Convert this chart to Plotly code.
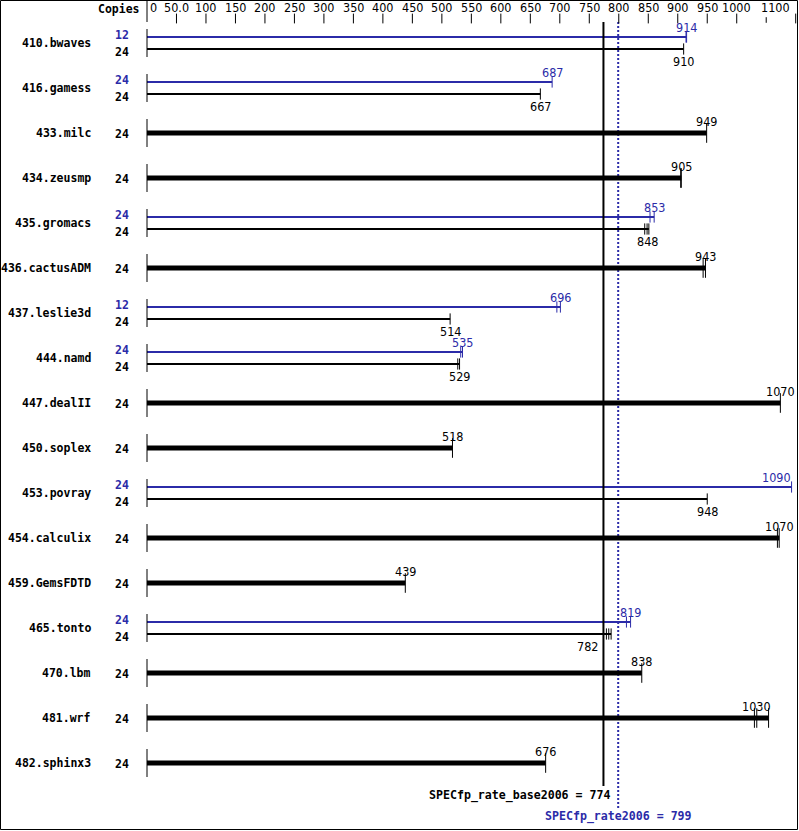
import plotly.graph_objects as go

benchmarks = ["410.bwaves", "416.gamess", "433.milc", "434.zeusmp", "435.gromacs",
              "436.cactusADM", "437.leslie3d", "444.namd", "447.dealII", "450.soplex",
              "453.povray", "454.calculix", "459.GemsFDTD", "465.tonto", "470.lbm",
              "481.wrf", "482.sphinx3"]
base_copies = [24, 24, 24, 24, 24, 24, 24, 24, 24, 24, 24, 24, 24, 24, 24, 24, 24]
peak_copies = [12, 24, None, None, 24, None, 12, 24, None, None, 24, None, None, 24, None, None, None]
base_ratio = [910, 667, 949, 905, 848, 943, 514, 529, 1070, 518, 948, 1070, 439, 782, 838, 1030, 676]
peak_ratio = [914, 687, None, None, 853, None, 696, 535, None, None, 1090, None, None, 819, None, None, None]
base_runs = [[910], [667], [949], [905, 906], [844, 848, 851], [943, 947], [514], [527, 530],
             [1074], [518], [950], [1069, 1072], [438], [779, 783, 787], [839],
             [1030, 1034, 1054], [676]]
peak_runs = [[914, 915], [687], None, None, [853, 860], None, [695, 701], [532, 535],
             None, None, [1093], None, None, [813, 820], None, None, None]
spec_base = 774
spec_peak = 799
spec_base_label = "SPECfp_rate_base2006 = 774"
spec_peak_label = "SPECfp_rate2006 = 799"
tick_vals = [0, 50, 100, 150, 200, 250, 300, 350, 400, 450, 500, 550, 600, 650, 700,
             750, 800, 850, 900, 950, 1000, 1100]
tick_text = ["0", "50.0", "100", "150", "200", "250", "300", "350", "400", "450", "500",
             "550", "600", "650", "700", "750", "800", "850", "900", "950", "1000", "1100"]
minor_tick_vals = [1050]

BLUE = "#2b2ba8"
BLACK = "#000000"
W, H = 799, 831
L, R, T, B = 141, 0, 0, 0
PW, PH = W - L - R, H - T - B
ROW_PX = 45.0
ROW0_PX = 43.0
XMIN = -10.17
XMAX = 1105.6
px_per_unit = PW / (XMAX - XMIN)

def row_of_px(p):
    return (p - ROW0_PX) / ROW_PX

YTOP = row_of_px(0)
YBOT = row_of_px(H)
AXIS_TOP = row_of_px(22)

def paper_x(px):
    return (px - L) / PW

def paper_y(py):
    return 1 - (py - T) / PH

BOLD = "DejaVu Sans Mono"
NUMFONT = "Liberation Sans Narrow, DejaVu Sans Condensed, sans-serif"

fig = go.Figure()
annotations = []
shapes = []

off = 6 / ROW_PX
for i, name in enumerate(benchmarks):
    dual = peak_runs[i] is not None
    groups = []
    if dual:
        groups.append(("peak", i - off, peak_runs[i], peak_ratio[i], BLUE, 2, 8))
        groups.append(("base", i + off, base_runs[i], base_ratio[i], BLACK, 2, 8))
    else:
        groups.append(("single", i, base_runs[i], base_ratio[i], BLACK, 5, 14))
    for kind, y, runs, ratio, col, lw, tsize in groups:
        fig.add_trace(go.Scatter(x=[0, max(runs)], y=[y, y], mode="lines",
                                 line=dict(color=col, width=lw), hoverinfo="skip",
                                 showlegend=False))
        fig.add_trace(go.Scatter(x=runs, y=[y] * len(runs), mode="markers",
                                 marker=dict(symbol="line-ns-open", size=tsize, color=col,
                                             line=dict(color=col, width=1)),
                                 hoverinfo="skip", showlegend=False))
        if kind == "base":
            ly = y + 12 / ROW_PX
        elif kind == "peak":
            ly = y - 10 / ROW_PX
        else:
            ly = y - 11.5 / ROW_PX
        anchor = "center"
        xshift = 0
        med = sorted(runs)[len(runs) // 2]
        lx = med
        if max(runs) > 1080:
            lx = max(runs)
            anchor = "right"
            xshift = 1
        elif kind == "base" and med > spec_base and (med - spec_base) * px_per_unit < 12:
            lx = spec_base
            anchor = "right"
            xshift = -3
        annotations.append(dict(x=lx, y=ly, xref="x", yref="y", text=str(ratio),
                                showarrow=False, xanchor=anchor, yanchor="middle",
                                xshift=xshift,
                                font=dict(family=NUMFONT, size=12.5, color=col)))
    annotations.append(dict(x=paper_x(93), y=i, xref="paper", yref="y", text=name,
                            showarrow=False, xanchor="right", yanchor="middle",
                            font=dict(family=BOLD, size=11.5, color=BLACK, weight="bold")))
    if dual:
        annotations.append(dict(x=paper_x(131), y=i - 8 / ROW_PX, xref="paper", yref="y",
                                text=str(peak_copies[i]), showarrow=False, xanchor="right",
                                yanchor="middle",
                                font=dict(family=BOLD, size=11.5, color=BLUE, weight="bold")))
        annotations.append(dict(x=paper_x(131), y=i + 9 / ROW_PX, xref="paper", yref="y",
                                text=str(base_copies[i]), showarrow=False, xanchor="right",
                                yanchor="middle",
                                font=dict(family=BOLD, size=11.5, color=BLACK, weight="bold")))
    else:
        annotations.append(dict(x=paper_x(131), y=i + 1 / ROW_PX, xref="paper", yref="y",
                                text=str(base_copies[i]), showarrow=False, xanchor="right",
                                yanchor="middle",
                                font=dict(family=BOLD, size=11.5, color=BLACK, weight="bold")))
    shapes.append(dict(type="line", xref="x", yref="y", x0=0, x1=0,
                       y0=i - 14 / ROW_PX, y1=i + 14 / ROW_PX,
                       line=dict(color=BLACK, width=1)))

# top scale: tick labels as text, tick marks as short vertical markers
for v, t in zip(tick_vals, tick_text):
    anchor, xs = "center", 0
    if v == tick_vals[0]:
        anchor, xs = "left", 1
    elif v == tick_vals[-1]:
        anchor, xs = "right", -4
    annotations.append(dict(x=v, y=row_of_px(7), xref="x", yref="y", text=t,
                            showarrow=False, xanchor=anchor, yanchor="middle", xshift=xs,
                            font=dict(family=NUMFONT, size=12.5, color=BLACK)))
major = tick_vals[1:]
fig.add_trace(go.Scatter(x=major, y=[row_of_px(18.5)] * len(major), mode="markers",
                         marker=dict(symbol="line-ns-open", size=7, color=BLACK,
                                     line=dict(color=BLACK, width=1)),
                         hoverinfo="skip", showlegend=False, cliponaxis=False))
fig.add_trace(go.Scatter(x=minor_tick_vals, y=[row_of_px(20)] * len(minor_tick_vals),
                         mode="markers",
                         marker=dict(symbol="line-ns-open", size=4, color=BLACK,
                                     line=dict(color=BLACK, width=1)),
                         hoverinfo="skip", showlegend=False, cliponaxis=False))

shapes.append(dict(type="line", xref="x", yref="y", x0=0, x1=0,
                   y0=AXIS_TOP, y1=YTOP, line=dict(color=BLACK, width=1)))
shapes.append(dict(type="line", xref="x", yref="y", x0=spec_peak, x1=spec_peak,
                   y0=AXIS_TOP, y1=row_of_px(808), layer="below",
                   line=dict(color=BLUE, width=2, dash="2px,2px")))
shapes.append(dict(type="line", xref="x", yref="y", x0=spec_base, x1=spec_base,
                   y0=AXIS_TOP, y1=row_of_px(786), layer="above",
                   line=dict(color=BLACK, width=2)))
shapes.append(dict(type="rect", xref="paper", yref="paper",
                   x0=paper_x(0.5), x1=paper_x(797.5), y0=paper_y(829.5), y1=paper_y(0.5),
                   line=dict(color=BLACK, width=1)))

annotations.append(dict(x=spec_base, y=row_of_px(795), xref="x", yref="y",
                        text=spec_base_label, showarrow=False, xanchor="right",
                        yanchor="middle", xshift=10,
                        font=dict(family=BOLD, size=11.6, color=BLACK, weight="bold")))
annotations.append(dict(x=spec_peak, y=row_of_px(816.5), xref="x", yref="y",
                        text=spec_peak_label, showarrow=False, xanchor="center",
                        yanchor="middle",
                        font=dict(family=BOLD, size=11.6, color=BLUE, weight="bold")))
annotations.append(dict(x=paper_x(142), y=row_of_px(9), xref="paper", yref="y",
                        text="Copies", showarrow=False, xanchor="right", yanchor="middle",
                        font=dict(family=BOLD, size=11.5, color=BLACK, weight="bold")))

fig.update_layout(
    width=W, height=H,
    margin=dict(l=L, r=R, t=T, b=B, pad=0),
    paper_bgcolor="white", plot_bgcolor="white",
    showlegend=False,
    xaxis=dict(range=[XMIN, XMAX], visible=False, showgrid=False, zeroline=False,
               fixedrange=True),
    yaxis=dict(range=[YBOT, YTOP], visible=False, fixedrange=True),
    annotations=annotations,
    shapes=shapes,
)

fig.write_html("out.html", config={"displayModeBar": False},
               post_script="document.body.style.margin='0';document.body.style.overflow='hidden';")
